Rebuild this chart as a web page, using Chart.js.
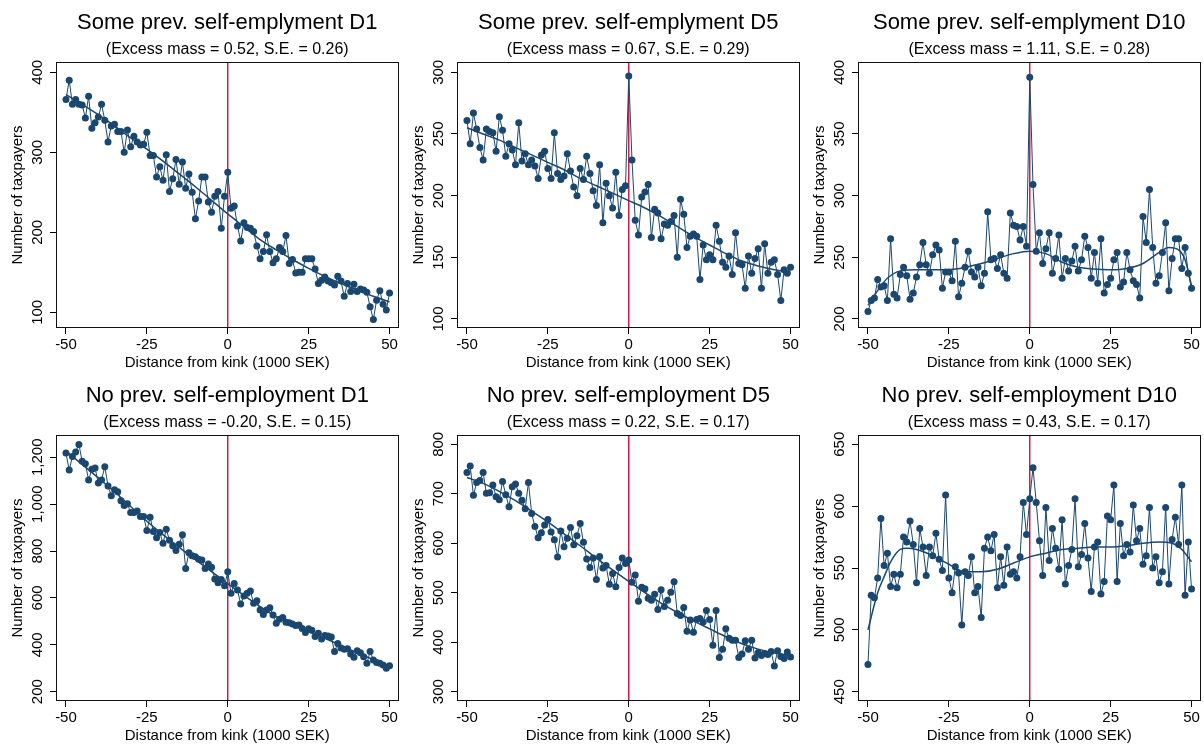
<!DOCTYPE html>
<html>
<head>
<meta charset="utf-8">
<script src="https://cdn.jsdelivr.net/npm/chart.js@4.4.1/dist/chart.umd.min.js"></script>
<style>
  html, body { margin: 0; padding: 0; background: #ffffff; }
  #wrap { position: relative; width: 1204px; height: 746px; overflow: hidden; background: #ffffff; }
  #wrap canvas { position: absolute; }
</style>
</head>
<body>
<div id="wrap">
  <canvas id="c1" width="402" height="373" style="left:0px;top:0px;"></canvas>
  <canvas id="c2" width="402" height="373" style="left:401px;top:0px;"></canvas>
  <canvas id="c3" width="402" height="373" style="left:802px;top:0px;"></canvas>
  <canvas id="c4" width="402" height="373" style="left:0px;top:373px;"></canvas>
  <canvas id="c5" width="402" height="373" style="left:401px;top:373px;"></canvas>
  <canvas id="c6" width="402" height="373" style="left:802px;top:373px;"></canvas>
</div>
<script>
// ---------- DATA ----------
const distance = [-50,-49,-48,-47,-46,-45,-44,-43,-42,-41,-40,-39,-38,-37,-36,-35,-34,-33,-32,-31,
  -30,-29,-28,-27,-26,-25,-24,-23,-22,-21,-20,-19,-18,-17,-16,-15,-14,-13,-12,-11,
  -10,-9,-8,-7,-6,-5,-4,-3,-2,-1,0,1,2,3,4,5,6,7,8,9,10,11,12,13,14,15,16,17,18,19,20,
  21,22,23,24,25,26,27,28,29,30,31,32,33,34,35,36,37,38,39,40,41,42,43,44,45,46,47,48,49,50];

const xTicks = [-50, -25, 0, 25, 50];

const titles = [
  "Some prev. self-emplyment D1", "Some prev. self-emplyment D5", "Some prev. self-emplyment D10",
  "No prev. self-employment D1", "No prev. self-employment D5", "No prev. self-employment D10"
];
const subtitles = [
  "(Excess mass = 0.52, S.E. = 0.26)", "(Excess mass = 0.67, S.E. = 0.29)", "(Excess mass = 1.11, S.E. = 0.28)",
  "(Excess mass = -0.20, S.E. = 0.15)", "(Excess mass = 0.22, S.E. = 0.17)", "(Excess mass = 0.43, S.E. = 0.17)"
];

// Some prev. self-employment D1
const someD1 = [366,390,360,366,360,359,343,370,330,337,
  344,360,340,313,333,335,326,326,300,328,
  307,320,313,309,310,325,296,296,269,282,
  265,297,251,267,291,260,288,255,273,250,
  217,239,269,269,238,225,245,251,205,245,
  275,
  230,233,208,189,212,206,205,201,183,167,
  176,197,176,162,167,181,176,196,161,166,
  149,150,150,167,167,167,154,136,140,144,
  139,137,134,145,139,120,136,126,135,126,
  129,128,125,107,91,115,127,110,103,124];
const fitXSomeD1 = [-50,-45,-40,-35,-30,-25,-20,-15,-10,-5,0,5,10,15,20,25,30,35,40,45,50];
const fitSomeD1 = [372,360,347,333,318,304,289,273,257,240,223,207,191,178,166,155,145,136,128,120,113];
const yTicksSomeD1 = [100, 200, 300, 400];

// Some prev. self-employment D5
const someD5 = [261,242,267,254,239,229,254,252,251,236,
  264,253,232,242,237,225,259,228,234,225,
  229,224,214,233,236,222,214,251,218,213,
  216,234,220,207,200,222,213,232,218,204,
  192,225,178,210,200,190,219,184,205,208,
  297,
  229,180,168,199,203,209,166,189,186,165,
  177,176,179,184,150,197,185,158,167,169,
  167,132,160,148,152,148,176,163,146,142,
  151,136,170,145,144,125,151,137,149,157,
  125,161,137,146,148,136,115,140,137,142];
const fitXSomeD5 = [-50,-45,-40,-35,-30,-25,-20,-15,-10,-5,0,5,10,15,20,25,30,35,40,45,50];
const fitSomeD5 = [255,250,245,239,233,227,221,214,208,202,196,190,183,175,167,160,153,147,143,140,138];
const yTicksSomeD5 = [100, 150, 200, 250, 300];

// Some prev. self-employment D10
const someD10 = [206,215,217,232,226,227,215,265,220,217,
  236,242,235,216,221,234,244,262,244,237,
  252,260,256,225,238,238,231,263,218,229,
  242,255,238,234,242,227,237,287,248,249,
  241,252,237,233,286,276,275,264,275,259,
  396,
  309,255,270,245,257,270,237,249,268,233,
  249,239,247,259,239,248,267,258,233,254,
  229,265,221,228,233,248,254,226,230,254,
  240,231,228,217,283,262,305,258,229,235,
  254,278,223,249,265,265,241,258,237,225];
const fitXSomeD10 = [-50,-47,-44,-40,-35,-25,-15,-5,0,5,10,15,25,30,35,40,43,46,48,50];
const fitSomeD10 = [211,223,233,239,240,240,245,253,255,253,246,242,240,241,245,254,258,256,248,227];
const yTicksSomeD10 = [200, 250, 300, 350, 400];

// No prev. self-employment D1
const noD1 = [1218,1146,1203,1223,1255,1183,1172,1103,1149,1154,
  1090,1103,1160,1078,1036,1061,1053,1015,994,1002,
  965,965,971,947,947,888,944,883,857,879,
  833,893,846,823,802,829,870,726,793,780,
  776,765,762,726,745,731,681,665,679,652,
  712,
  620,662,634,574,608,620,630,577,588,549,
  529,549,558,527,492,509,517,496,494,489,
  482,484,470,452,469,462,435,449,425,440,
  438,433,371,406,386,381,383,361,347,375,
  366,349,321,371,335,325,321,314,300,311];
const fitXNoD1 = [-50,-45,-40,-35,-30,-25,-20,-15,-10,-5,0,5,10,15,20,25,30,35,40,45,50];
const fitNoD1 = [1226,1170,1112,1053,990,927,870,816,764,712,661,611,563,520,486,457,428,397,366,337,310];
const yTicksNoD1 = [200, 400, 600, 800, 1000, 1200];

// No prev. self-employment D5
const noD5 = [743,756,697,723,727,743,701,702,718,694,
  688,725,698,674,714,720,701,687,670,723,
  660,634,611,621,637,648,623,607,572,625,
  593,610,632,597,615,640,602,568,551,570,
  527,573,550,555,517,539,512,551,570,559,
  566,
  521,536,483,511,508,489,485,497,466,506,
  472,485,501,522,458,454,470,422,445,420,
  446,448,441,464,446,394,464,369,386,427,
  408,404,404,369,376,403,386,404,368,379,
  373,377,375,381,352,383,371,367,380,370];
const fitXNoD5 = [-50,-45,-40,-35,-30,-25,-20,-15,-10,-5,0,5,10,15,20,25,30,35,40,45,50];
const fitNoD5 = [733,721,705,686,665,643,619,595,570,546,523,500,479,460,443,427,411,397,386,378,373];
const yTicksNoD5 = [300, 400, 500, 600, 700, 800];

// No prev. self-employment D10
const noD10 = [472,528,526,542,590,552,562,535,545,534,
  545,575,571,588,569,538,582,567,544,567,
  560,578,557,548,609,542,530,551,546,504,
  547,544,559,530,535,510,566,575,564,577,
  534,559,536,567,545,547,542,559,603,577,
  606,
  631,603,572,544,599,556,582,566,549,589,
  537,552,565,606,551,561,586,558,531,567,
  571,529,539,592,589,617,539,586,560,569,
  563,601,572,582,553,560,599,550,559,538,
  547,599,537,573,591,569,617,528,571,533];
const fitXNoD10 = [-50,-47,-45,-43,-40,-38,-35,-30,-25,-20,-15,-10,-5,0,5,10,15,20,25,30,35,40,44,47,50];
const fitNoD10 = [500,530,543,555,565,566,565,560,553,547,547,549,554,559,562,565,566,567,567,568,570,571,570,565,555];
const yTicksNoD10 = [450, 500, 550, 600, 650];

// ---------- STYLE / LAYOUT ----------
const NAVY = '#1a476f';
const KINK = '#d41c4b';
const FONT = "'Liberation Sans', Arial, Helvetica, sans-serif";
const xRange = [-53.08, 52.77];

const panels = [
  {id: 'c1', y: someD1, fx: fitXSomeD1, fy: fitSomeD1, ticks: yTicksSomeD1, range: [80.4, 412.9]},
  {id: 'c2', y: someD5, fx: fitXSomeD5, fy: fitSomeD5, ticks: yTicksSomeD5, range: [92.7, 308.35]},
  {id: 'c3', y: someD10, fx: fitXSomeD10, fy: fitSomeD10, ticks: yTicksSomeD10, range: [192.7, 408.35]},
  {id: 'c4', y: noD1, fx: fitXNoD1, fy: fitNoD1, ticks: yTicksNoD1, range: [160.3, 1295.1]},
  {id: 'c5', y: noD5, fx: fitXNoD5, fy: fitNoD5, ticks: yTicksNoD5, range: [281.2, 818.8]},
  {id: 'c6', y: noD10, fx: fitXNoD10, fy: fitNoD10, ticks: yTicksNoD10, range: [442.5, 657.5]}
];

const measureCtx = document.createElement('canvas').getContext('2d');
measureCtx.font = "15px " + FONT;
function yTickPadding(ticks) {
  const w = Math.max(...ticks.map(t => measureCtx.measureText(t.toLocaleString('en-US')).width));
  return 12.5 - w / 2;
}

const framePlugin = {
  id: 'frameBox',
  afterDraw(chart) {
    const a = chart.chartArea, ctx = chart.ctx;
    ctx.save();
    ctx.strokeStyle = '#111111';
    ctx.lineWidth = 1;
    const l = Math.round(a.left) + 0.5, t = Math.round(a.top) + 0.5;
    const r = Math.round(a.right) - 0.5, b = Math.round(a.bottom) - 0.5;
    ctx.strokeRect(l, t, r - l, b - t);
    ctx.restore();
  }
};

panels.forEach((p, i) => {
  const points = distance.map((x, k) => ({x: x, y: p.y[k]}));
  const fit = p.fx.map((x, k) => ({x: x, y: p.fy[k]}));
  const kink = [{x: 0, y: p.range[0]}, {x: 0, y: p.range[1]}];
  const pad = yTickPadding(p.ticks);

  new Chart(document.getElementById(p.id), {
    type: 'scatter',
    data: {
      datasets: [
        {data: points, showLine: true, borderColor: NAVY, borderWidth: 1, tension: 0,
         pointRadius: 3.5, pointBackgroundColor: NAVY, pointBorderWidth: 0, pointHoverRadius: 3.5},
        {data: fit, showLine: true, borderColor: NAVY, borderWidth: 1.5,
         cubicInterpolationMode: 'monotone', pointRadius: 0, pointHoverRadius: 0},
        {data: kink, showLine: true, borderColor: KINK, borderWidth: 1.5, pointRadius: 0, pointHoverRadius: 0}
      ]
    },
    options: {
      responsive: false,
      animation: false,
      devicePixelRatio: 1,
      events: [],
      layout: {padding: {left: 0, right: 2, top: 0, bottom: 0}},
      plugins: {
        legend: {display: false},
        tooltip: {enabled: false},
        title: {display: true, text: titles[i], fullSize: false, color: '#000',
                font: {family: FONT, size: 22, weight: 'normal', lineHeight: 1.2},
                padding: {top: 9.8, bottom: 0}},
        subtitle: {display: true, text: subtitles[i], fullSize: false, color: '#000',
                   font: {family: FONT, size: 16, weight: 'normal', lineHeight: 1.2},
                   padding: {top: 3.9, bottom: 2.7}}
      },
      scales: {
        x: {
          type: 'linear', position: 'bottom', min: xRange[0], max: xRange[1],
          afterBuildTicks: s => { s.ticks = xTicks.map(v => ({value: v})); },
          afterFit: s => { s.height = 45; s.paddingLeft = 0; s.paddingRight = 0; },
          grid: {drawOnChartArea: false, drawTicks: true, tickLength: 6, color: '#000', lineWidth: 1},
          border: {display: false},
          ticks: {color: '#000', font: {family: FONT, size: 15}, padding: 1.5, maxRotation: 0, autoSkip: false},
          title: {display: true, text: 'Distance from kink (1000 SEK)', color: '#000',
                  font: {family: FONT, size: 15, lineHeight: 1.2}, padding: {top: 0, bottom: 0.7}}
        },
        y: {
          type: 'linear', position: 'left', min: p.range[0], max: p.range[1],
          afterBuildTicks: s => { s.ticks = p.ticks.map(v => ({value: v})); },
          afterFit: s => { s.width = 56; s.paddingTop = 0; s.paddingBottom = 0; },
          grid: {drawOnChartArea: false, drawTicks: true, tickLength: 6, color: '#000', lineWidth: 1},
          border: {display: false},
          ticks: {color: '#000', font: {family: FONT, size: 15}, padding: pad,
                  minRotation: 90, maxRotation: 90, crossAlign: 'center', autoSkip: false},
          title: {display: true, text: 'Number of taxpayers', color: '#000',
                  font: {family: FONT, size: 15, lineHeight: 1.2}, padding: {top: 8.4, bottom: 0}}
        }
      }
    },
    plugins: [framePlugin]
  });
});
</script>
</body>
</html>
